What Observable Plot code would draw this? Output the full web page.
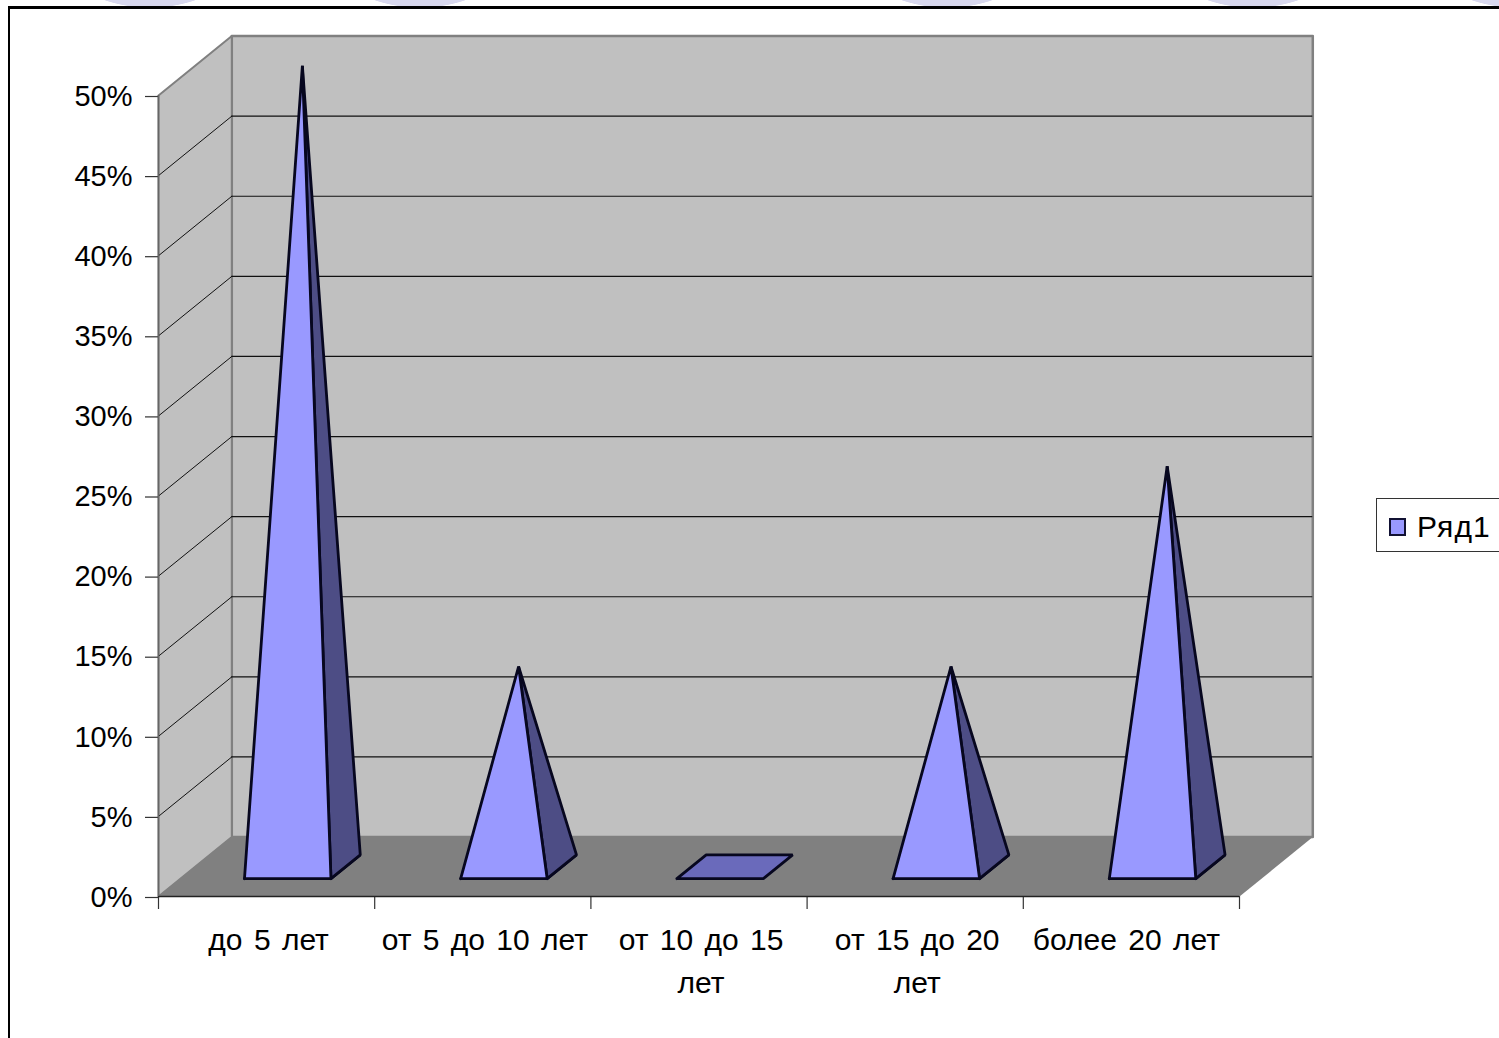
<!DOCTYPE html>
<html lang="ru">
<head>
<meta charset="utf-8">
<script src="https://cdn.jsdelivr.net/npm/d3@7"></script>
<script src="https://cdn.jsdelivr.net/npm/@observablehq/plot@0.6"></script>
<style>
  html, body { margin: 0; padding: 0; background: #fff; overflow: hidden; }
  #page { position: relative; width: 1499px; height: 1038px; overflow: hidden; background: #fff; font-family: "Liberation Sans", sans-serif; }
  #arcs { position: absolute; left: 0; top: 0; width: 1499px; height: 7px;
    background:
      radial-gradient(circle 142px at 150px -134px, #d8d8ee 99.5%, transparent 100%),
      radial-gradient(circle 142px at 420px -134px, #d8d8ee 99.5%, transparent 100%),
      radial-gradient(circle 142px at 947px -134px, #d8d8ee 99.5%, transparent 100%),
      radial-gradient(circle 142px at 1253px -134px, #d8d8ee 99.5%, transparent 100%),
      radial-gradient(circle 142px at 1517px -134px, #d8d8ee 99.5%, transparent 100%);
  }
  #frame { position: absolute; left: 8px; top: 6px; width: 1600px; height: 1200px; border: solid #000; border-width: 3px 0 0 2.5px; box-sizing: border-box; }
  #chart { position: absolute; left: 0; top: 0; }
  #chart svg { display: block; background: transparent; overflow: visible; }
  #chart svg text { word-spacing: 3px; }
  #legend { position: absolute; left: 1376px; top: 498px; width: 140px; height: 54px; box-sizing: border-box; border: 1px solid #333; background: #fff; }
  #legend i { position: absolute; left: 12px; top: 19px; width: 17px; height: 18px; box-sizing: border-box; background: #9999ff; border: 2px solid #111133; }
  #legend span { position: absolute; left: 40px; top: 12px; font-size: 30px; letter-spacing: 1.1px; line-height: 31px; color: #000; }
</style>
</head>
<body>
<div id="page">
  <div id="arcs"></div>
  <div id="frame"></div>
  <div id="chart"></div>
  <div id="legend"><i></i><span>Ряд1</span></div>
</div>
<script>
const categories = ["до 5 лет", "от 5 до 10 лет", "от 10 до 15\nлет", "от 15 до 20\nлет", "более 20 лет"];
const values = [50, 12.5, 0, 12.5, 25];
const yTicks = [0, 5, 10, 15, 20, 25, 30, 35, 40, 45, 50];
const xTicks = [0, 1, 2, 3, 4, 5];
const seriesName = "Ряд1";

// oblique projection of the 3D box, in data units
const DX = 0.339, DY = 3.71;
const project = (cat, val, depth) => ({x: cat + depth * DX, y: val + depth * DY});
const poly = (id, pts) => pts.concat([pts[0]]).map(([c, v, d]) => ({id, ...project(c, v, d)}));

const backWall = poly("back", [[0, 0, 1], [5, 0, 1], [5, 50, 1], [0, 50, 1]]);
const leftWall = poly("left", [[0, 0, 0], [0, 0, 1], [0, 50, 1], [0, 50, 0]]);
const floor = poly("floor", [[0, 0, 0], [5, 0, 0], [5, 0, 1], [0, 0, 1]]);
const gridBack = yTicks.filter(t => t > 0 && t < 50).map(t => ({...project(0, t, 1), x2: project(5, t, 1).x}));
const gridLeft = yTicks.filter(t => t > 0 && t < 50).flatMap(t => [
  {id: t, ...project(0, t, 0)}, {id: t, ...project(0, t, 1)}
]);

const halfW = 0.2, d0 = 0.3, d1 = 0.7;
const bases = [], fronts = [], sides = [];
values.forEach((v, i) => {
  const c = i + 0.5 - 0.004, apex = [c, v, 0.5];
  bases.push(...poly("b" + i, [[c - halfW, 0, d0], [c + halfW, 0, d0], [c + halfW, 0, d1], [c - halfW, 0, d1]]));
  if (v > 0) {
    sides.push(...poly("s" + i, [[c + halfW, 0, d0], [c + halfW, 0, d1], apex]));
    fronts.push(...poly("f" + i, [[c - halfW, 0, d0], [c + halfW, 0, d0], apex]));
  }
});
const edge = "#07071f";
const labelRows = categories.map((text, i) => ({text, i}));

const plot = Plot.plot({
  width: 1499, height: 1038,
  marginLeft: 158, marginRight: 260, marginTop: 95, marginBottom: 142,
  x: {domain: [0, 5]},
  y: {domain: [0, 50]},
  style: {fontFamily: "'Liberation Sans', sans-serif", fontSize: "29px", color: "#000", background: "transparent"},
  marks: [
    Plot.line(backWall, {x: "x", y: "y", z: "id", fill: "#c0c0c0", stroke: "#808080", strokeWidth: 2.5}),
    Plot.line(leftWall, {x: "x", y: "y", z: "id", fill: "#c0c0c0", stroke: "#808080", strokeWidth: 2}),
    Plot.line(floor, {x: "x", y: "y", z: "id", fill: "#808080"}),
    Plot.ruleY(gridBack, {y: "y", x1: "x", x2: "x2", stroke: "#111", strokeWidth: 1.2}),
    Plot.line(gridLeft, {x: "x", y: "y", z: "id", stroke: "#111", strokeWidth: 1}),
    Plot.axisY({ticks: yTicks, tickFormat: d => d + "%", tickSize: 13, tickPadding: 13, label: null, fontSize: 29, dy: 1, stroke: "#333", strokeWidth: 1.2}),
    Plot.axisX({ticks: xTicks, tickFormat: () => "", tickSize: 13, label: null, stroke: "#333", strokeWidth: 1.2}),
    Plot.ruleY([0], {stroke: "#222", strokeWidth: 1.5}),
    Plot.ruleX([0], {stroke: "#666", strokeWidth: 1.5}),
    Plot.line(bases, {x: "x", y: "y", z: "id", fill: "#6a6abb", stroke: edge, strokeWidth: 2.8, strokeLinejoin: "miter"}),
    Plot.line(sides, {x: "x", y: "y", z: "id", fill: "#4d4d85", stroke: edge, strokeWidth: 2.8, strokeLinejoin: "miter"}),
    Plot.line(fronts, {x: "x", y: "y", z: "id", fill: "#9999ff", stroke: edge, strokeWidth: 2.8, strokeLinejoin: "miter"}),
    Plot.text(labelRows.slice(0, 4), {
      x: d => d.i + 0.5, y: () => 0, text: "text", dx: 2,
      lineAnchor: "top", dy: 23, fontSize: 30, lineHeight: 1.43, fill: "#000"
    }),
    Plot.text(labelRows.slice(4), {
      x: d => d.i + 0.5, y: () => 0, text: "text", dx: -5,
      lineAnchor: "top", dy: 23, fontSize: 30, lineHeight: 1.43, fill: "#000"
    })
  ]
});
document.getElementById("chart").append(plot);
</script>
</body>
</html>
